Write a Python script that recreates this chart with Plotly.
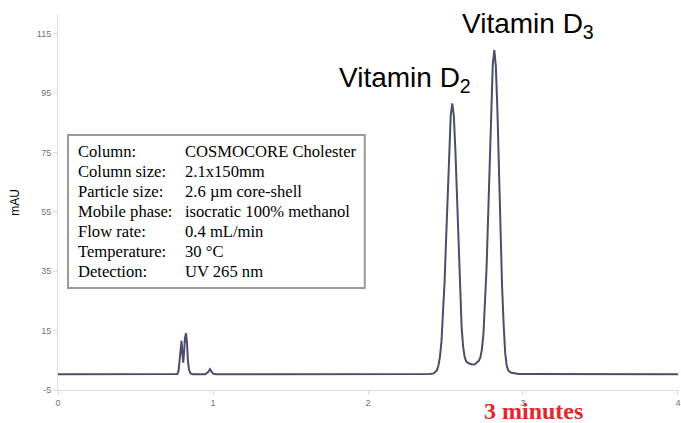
import plotly.graph_objects as go

# Chromatogram trace (time in minutes, absorbance in mAU)
time_min = [
    0.0, 0.2, 0.4, 0.6, 0.75, 0.770, 0.778, 0.785, 0.791, 0.797, 0.803, 0.808,
    0.813, 0.819, 0.826, 0.832, 0.838, 0.845, 0.855, 0.870, 0.95, 0.96, 0.97,
    0.98, 0.99, 1.0, 1.02, 1.5, 2.0, 2.3, 2.40, 2.424, 2.444, 2.454, 2.464,
    2.474, 2.484, 2.494, 2.504, 2.514, 2.524, 2.534, 2.544, 2.554, 2.564,
    2.574, 2.584, 2.594, 2.604, 2.614, 2.624, 2.634, 2.65, 2.67, 2.69, 2.70,
    2.715, 2.725, 2.735, 2.745, 2.755, 2.765, 2.775, 2.785, 2.795, 2.805,
    2.815, 2.825, 2.835, 2.845, 2.855, 2.865, 2.875, 2.885, 2.895, 2.905,
    2.92, 2.94, 2.97, 3.0, 3.1, 3.5, 4.0,
]
absorbance_mau = [
    0.3, 0.3, 0.3, 0.3, 0.3, 0.4, 1.5, 5.5, 10.0, 11.6, 7.0, 4.2,
    7.5, 12.5, 14.1, 11.0, 5.0, 1.8, 0.6, 0.3, 0.3, 0.6, 1.1,
    2.0, 1.1, 0.5, 0.3, 0.3, 0.3, 0.3, 0.4, 0.6, 1.6, 3.1, 6.1,
    11.3, 19.6, 31.3, 46.0, 62.2, 77.1, 87.8, 91.6, 87.2, 75.5,
    59.2, 42.2, 27.3, 16.1, 9.5, 6.0, 4.6, 4.0, 3.6, 3.7, 4.2,
    4.8, 6.0, 8.8, 14.0, 22.9, 36.1, 53.4, 73.0, 91.4, 104.7,
    109.6, 104.0, 89.1, 68.8, 47.9, 30.1, 17.2, 7.5, 3.2, 1.6,
    0.9, 0.6, 0.4, 0.4, 0.4, 0.3, 0.3,
]

x_ticks = [0, 1, 2, 3, 4]
y_ticks = [-5, 15, 35, 55, 75, 95, 115]

info_labels = ["Column:", "Column size:", "Particle size:", "Mobile phase:",
               "Flow rate:", "Temperature:", "Detection:"]
info_values = ["COSMOCORE Cholester", "2.1x150mm", "2.6 \u00b5m core-shell",
               "isocratic 100% methanol", "0.4 mL/min", "30 \u00b0C", "UV 265 nm"]

fig = go.Figure()
fig.add_trace(go.Scatter(
    x=time_min, y=absorbance_mau, mode="lines",
    line=dict(color="#4a4e6c", width=2), hoverinfo="skip", showlegend=False,
))

axis_common = dict(
    showgrid=False, zeroline=False, showline=True, linecolor="#dcdcdc", linewidth=1,
    ticks="outside", ticklen=4, tickcolor="#dcdcdc", ticklabeloverflow="allow",
    tickfont=dict(family="Arial", size=9, color="#727272"), automargin=False,
)

fig.update_layout(
    template="none",
    width=681, height=423,
    margin=dict(l=58, r=2, t=15, b=33),
    paper_bgcolor="white", plot_bgcolor="white",
    showlegend=False,
    xaxis=dict(range=[0, 4.0065], tickvals=x_ticks, ticktext=[str(v) for v in x_ticks], **axis_common),
    yaxis=dict(range=[-5, 121.4], tickvals=y_ticks, ticktext=[str(v) for v in y_ticks],
               title=dict(text="mAU", font=dict(family="Arial", size=12, color="black"), standoff=14),
               **axis_common),
)

# Info box
fig.add_shape(type="rect", xref="paper", yref="paper",
              x0=0.0161, x1=0.494, y0=0.272, y1=0.68,
              line=dict(color="#9a9a9a", width=2), fillcolor="white", layer="above")
for i, (lab, val) in enumerate(zip(info_labels, info_values)):
    row_y = 0.635 - i * 0.0533
    fig.add_annotation(xref="paper", yref="paper", x=0.029, y=row_y,
                       xanchor="left", yanchor="middle", align="left", showarrow=False,
                       text=lab, font=dict(family="Liberation Serif", size=16.6, color="black"))
    fig.add_annotation(xref="paper", yref="paper", x=0.2013, y=row_y,
                       xanchor="left", yanchor="middle", align="left", showarrow=False,
                       text=val, font=dict(family="Liberation Serif", size=16.6, color="black"))

# Peak labels
fig.add_annotation(x=2.239, y=99.5, xref="x", yref="y", showarrow=False,
                   text="Vitamin D<sub>2</sub>", xanchor="center", yanchor="middle",
                   font=dict(family="Arial", size=28, color="black"))
fig.add_annotation(x=3.03, y=118.0, xref="x", yref="y", showarrow=False,
                   text="Vitamin D<sub>3</sub>", xanchor="center", yanchor="middle",
                   font=dict(family="Arial", size=28, color="black"))

fig.add_annotation(x=3.07, y=-0.055, xref="x", yref="paper", showarrow=False,
                   text="<b>3 minutes</b>", xanchor="center", yanchor="middle",
                   font=dict(family="Liberation Serif", size=24, color="#e8262a"))

# remove the page's default 8px body margin so the 681x423 figure fills the window
fig.write_html(
    "out.html",
    config={"displayModeBar": False},
    post_script="document.body.style.margin='0';document.body.style.overflow='hidden';",
)
